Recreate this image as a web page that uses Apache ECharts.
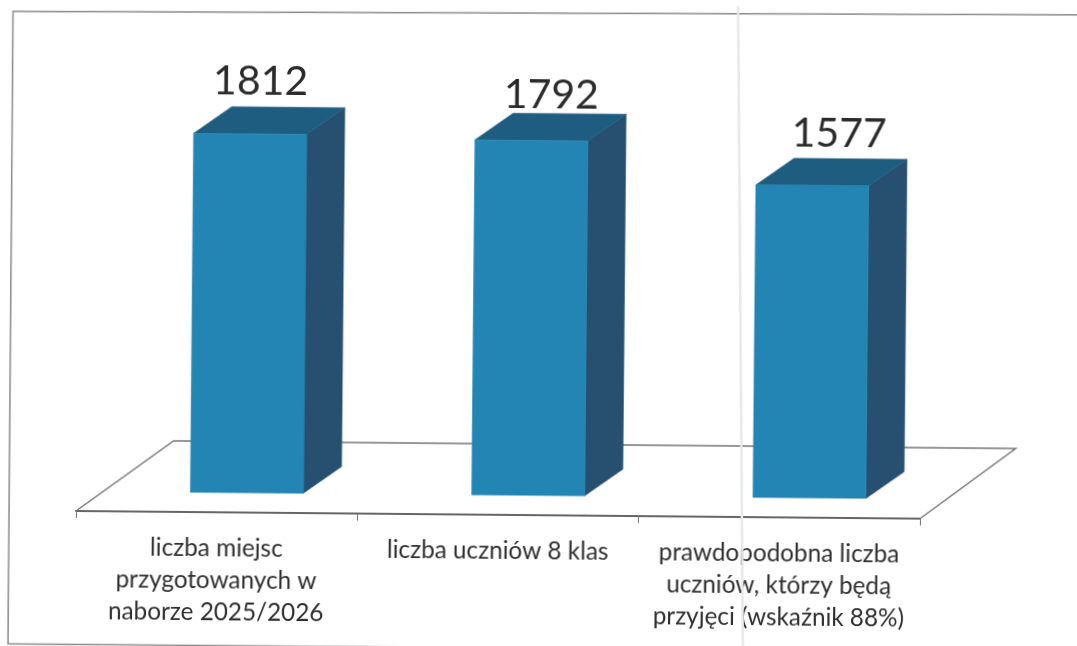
<!DOCTYPE html>
<html>
<head>
<meta charset="utf-8">
<title>Nabór 2025/2026</title>
<script src="https://cdn.jsdelivr.net/npm/echarts@6/dist/echarts.min.js"></script>
<style>
  html, body { margin: 0; padding: 0; background: #fff; overflow: hidden; }
  /* the reference is a slightly crooked scan, so the whole chart is turned a little */
  #chart { width: 1077px; height: 646px; transform: rotate(0.52deg); transform-origin: 76px 511px; filter: blur(0.5px); }
</style>
</head>
<body>
<div id="chart"></div>
<script>
const categories = [
  'liczba miejsc\nprzygotowanych w\nnaborze 2025/2026',
  'liczba uczniów 8 klas',
  'prawdopodobna liczba\nuczniów, którzy będą\nprzyjęci (wskaźnik 88%)'
]
const values = [1812, 1792, 1577]

const FONT = 'Lato'
const BAR_WIDTH = 113
const BAR_SHIFT = 30 // bars sit towards the back of the floor
const DEPTH_X = 38
const DEPTH_Y = -27
const LABEL_DX = [10, 19.5, 26.5] // hand placed value labels
const LABEL_DY = [-52, -45, -52]

const chart = echarts.init(document.getElementById('chart'))

function renderBar(params, api) {
  const i = api.value(0)
  const top = api.coord([i, api.value(1)])
  const base = api.coord([i, 0])
  const x0 = top[0] + BAR_SHIFT - BAR_WIDTH / 2
  const x1 = x0 + BAR_WIDTH
  const yt = top[1]
  const yb = base[1]
  const poly = (points, fill) => ({
    type: 'polygon',
    shape: { points },
    style: { fill, stroke: fill, lineWidth: 0.5 }
  })
  return {
    type: 'group',
    children: [
      poly([[x1, yt], [x1 + DEPTH_X, yt + DEPTH_Y], [x1 + DEPTH_X, yb + DEPTH_Y], [x1, yb]], '#264f70'),
      poly([[x0, yt], [x0 + DEPTH_X, yt + DEPTH_Y], [x1 + DEPTH_X, yt + DEPTH_Y], [x1, yt]], '#1f5d80'),
      poly([[x0, yt], [x1, yt], [x1, yb], [x0, yb]], '#2285b3'),
      {
        type: 'text',
        style: {
          x: (x0 + x1) / 2 + LABEL_DX[i],
          y: yt + LABEL_DY[i],
          text: String(api.value(1)),
          font: '41px ' + FONT,
          fill: '#2b2b2b',
          align: 'center',
          verticalAlign: 'middle'
        }
      }
    ]
  }
}

// back and side edges of the floor, the front edge is the category axis
function renderFloor(params) {
  const { x, y, width } = params.coordSys
  const bottom = y + params.coordSys.height
  return {
    type: 'polyline',
    shape: { points: [[x, bottom], [x + 97, bottom - 71], [x + width + 95, bottom - 71], [x + width, bottom]] },
    style: { fill: 'none', stroke: '#777', lineWidth: 1.5 }
  }
}

chart.setOption({
  animation: false,
  backgroundColor: '#fff',
  grid: { left: 76, right: 157, top: 95, bottom: 135 },
  xAxis: {
    type: 'category',
    data: categories,
    axisLine: { onZero: false, lineStyle: { color: '#666', width: 2 } },
    axisTick: { show: true, alignWithLabel: false, length: 7, lineStyle: { color: '#777' } },
    axisLabel: {
      interval: 0,
      margin: 20,
      verticalAlign: 'top',
      fontFamily: FONT,
      fontSize: 24.3,
      lineHeight: 32,
      color: '#2f2f2f'
    }
  },
  yAxis: { type: 'value', min: -100, max: 2000, show: false },
  series: [
    {
      type: 'custom',
      silent: true,
      z: 1,
      data: [0],
      renderItem: renderFloor
    },
    {
      type: 'custom',
      z: 2,
      encode: { x: 0, y: 1 },
      data: values.map((v, i) => [i, v]),
      renderItem: renderBar
    }
  ],
  graphic: [
    { type: 'polyline', shape: { points: [[1085.5, 5.8], [8.5, 12], [9.2, 644.6], [801, 644.1]] }, style: { fill: 'none', stroke: '#8a8a8a', lineWidth: 1.5 }, z: 0 },
    { type: 'line', shape: { x1: 733.4, y1: -6, x2: 744.2, y2: 650 }, style: { stroke: '#e8e8e8', lineWidth: 2.5 }, z: 10 }
  ]
})
</script>
</body>
</html>
